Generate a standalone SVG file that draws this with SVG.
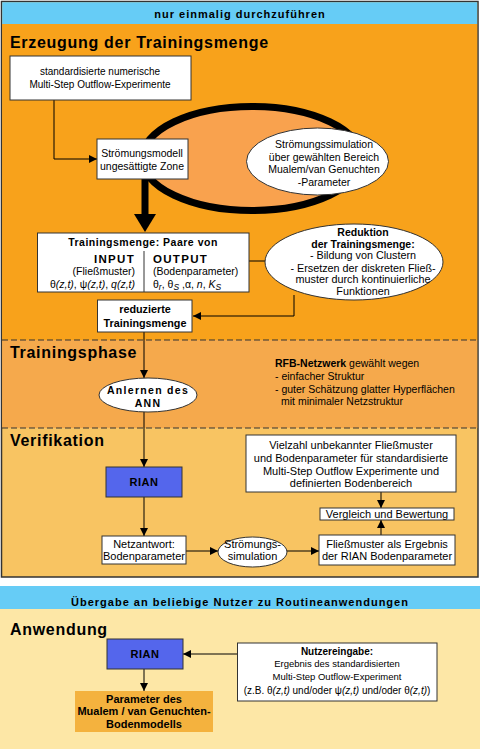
<svg xmlns="http://www.w3.org/2000/svg" width="480" height="749" viewBox="0 0 480 749">
<defs>
<marker id="ah" viewBox="0 0 10 10" refX="10" refY="5" markerWidth="9" markerHeight="8" markerUnits="userSpaceOnUse" orient="auto">
<path d="M0,0 L10,5 L0,10 z" fill="#000"/>
</marker>
<style>
text{font-family:"Liberation Sans",Arial,sans-serif;fill:#000}
.t{font-size:10.5px}
.b{font-size:10.5px;font-weight:bold}
.v{font-size:11px}
.h{font-size:16px;font-weight:bold;letter-spacing:0.7px}
.band{font-size:11px;font-weight:bold;letter-spacing:1px}
.box{fill:#fff;stroke:#333;stroke-width:1}
.ell{fill:#fff;stroke:#333;stroke-width:1}
.con{fill:none;stroke:#000;stroke-width:1}
.i{font-style:italic}
</style>
</defs>

<g id="frame-top">
<rect x="1.5" y="1.5" width="476.5" height="575.5" fill="#F8C462" stroke="#333" stroke-width="1.5"/>
<rect x="2.2" y="2.2" width="475" height="22" fill="#66CCF6"/>
<rect x="2.2" y="24" width="475" height="316" fill="#F8A21B"/>
<rect x="2.2" y="340" width="475" height="88" fill="#F5A94C"/>
<line x1="2" y1="340" x2="477" y2="340" stroke="#333" stroke-width="1" stroke-dasharray="6,3"/>
<line x1="2" y1="428" x2="477" y2="428" stroke="#333" stroke-width="1" stroke-dasharray="6,3"/>
<text class="band" x="240" y="18" text-anchor="middle">nur einmalig durchzuführen</text>
<text class="h" x="10" y="48">Erzeugung der Trainingsmenge</text>
<text class="h" x="10" y="358">Trainingsphase</text>
<text class="h" x="10" y="446">Verifikation</text>
</g>

<g id="frame-bottom">
<rect x="0" y="586" width="480" height="23" fill="#66CCF6"/>
<rect x="0" y="609" width="480" height="140" fill="#FDE7A6"/>
<text class="band" x="240" y="606" text-anchor="middle">Übergabe an beliebige Nutzer zu Routineanwendungen</text>
<text class="h" x="10" y="635">Anwendung</text>
</g>

<g id="loop">
<ellipse cx="252" cy="158.5" rx="110" ry="52" fill="#F9A24E" stroke="#000" stroke-width="7"/>
<path d="M145,168 L145,216" stroke="#000" stroke-width="7" fill="none"/>
<path d="M134,214 L156,214 L145,232 z" fill="#000"/>
</g>

<g id="connectors">
<path class="con" d="M54,100 L54,159 L97,159" marker-end="url(#ah)"/>
<line class="con" x1="249" y1="261" x2="266" y2="261"/>
<path class="con" d="M294,295 L294,316 L193,316" marker-end="url(#ah)"/>
<line class="con" x1="144" y1="332" x2="144" y2="378" marker-end="url(#ah)"/>
<line class="con" x1="144" y1="412" x2="144" y2="467" marker-end="url(#ah)"/>
<line class="con" x1="144" y1="497" x2="144" y2="536" marker-end="url(#ah)"/>
<line class="con" x1="186" y1="551" x2="218" y2="551" marker-end="url(#ah)"/>
<line class="con" x1="287" y1="551" x2="319" y2="551" marker-end="url(#ah)"/>
<line class="con" x1="381" y1="535" x2="381" y2="520" marker-end="url(#ah)"/>
<line class="con" x1="381" y1="492" x2="381" y2="508" marker-end="url(#ah)"/>
<line class="con" x1="237" y1="654" x2="183" y2="654" marker-end="url(#ah)"/>
<line class="con" x1="144" y1="669" x2="144" y2="691" marker-end="url(#ah)"/>
</g>

<g id="n-experimente">
<rect class="box" x="10" y="56" width="181" height="44"/>
<text class="t" x="100" y="75" text-anchor="middle" style="font-size:10px">standardisierte numerische</text>
<text class="t" x="100" y="87.5" text-anchor="middle" style="font-size:10px">Multi-Step Outflow-Experimente</text>
</g>

<g id="n-stroemungsmodell">
<rect class="box" x="97" y="139" width="91" height="40"/>
<text class="t" x="142" y="157" text-anchor="middle">Strömungsmodell</text>
<text class="t" x="142" y="169.5" text-anchor="middle">ungesättigte Zone</text>
</g>

<g id="n-stroemungssimulation">
<ellipse class="ell" cx="317.5" cy="161.5" rx="71" ry="33.5"/>
<text class="t" x="324" y="148" text-anchor="middle">Strömungssimulation</text>
<text class="t" x="324" y="160.5" text-anchor="middle">über gewählten Bereich</text>
<text class="t" x="324" y="173" text-anchor="middle">Mualem/van Genuchten</text>
<text class="t" x="324" y="185.5" text-anchor="middle">-Parameter</text>
</g>

<g id="n-trainingsmenge">
<rect class="box" x="37.5" y="233" width="211.5" height="59"/>
<line x1="144" y1="251" x2="144" y2="292" stroke="#333" stroke-width="1"/>
<text class="b" x="143" y="246" text-anchor="middle" style="letter-spacing:0.5px">Trainingsmenge: Paare von</text>
<text class="b" x="135" y="262.5" text-anchor="end" style="font-size:11.5px;letter-spacing:1.3px">INPUT</text>
<text class="t" x="135" y="275" text-anchor="end">(Fließmuster)</text>
<text class="t" x="135" y="287.5" text-anchor="end">θ<tspan class="i">(z,t)</tspan>, ψ<tspan class="i">(z,t)</tspan>, <tspan class="i">q(z,t)</tspan></text>
<text class="b" x="153" y="262.5" style="font-size:11.5px;letter-spacing:1.3px">OUTPUT</text>
<text class="t" x="153" y="275">(Bodenparameter)</text>
<text class="t" x="153" y="287.5">θ<tspan class="i" font-size="8.5" dy="2">r</tspan><tspan dy="-2">, θ</tspan><tspan class="i" font-size="8.5" dy="2">S</tspan><tspan dy="-2"> ,α, </tspan><tspan class="i">n</tspan>, <tspan class="i">K</tspan><tspan class="i" font-size="8.5" dy="2">S</tspan></text>
</g>

<g id="n-reduktion">
<ellipse class="ell" cx="354" cy="262" rx="89" ry="38"/>
<text class="b" x="363" y="236" text-anchor="middle">Reduktion</text>
<text class="b" x="363" y="247.5" text-anchor="middle">der Trainingsmenge:</text>
<text class="t" x="363" y="259" text-anchor="middle" style="font-size:10.8px">- Bildung von Clustern</text>
<text class="t" x="363" y="271.5" text-anchor="middle" style="font-size:10.8px">- Ersetzen der diskreten Fließ-</text>
<text class="t" x="363" y="283" text-anchor="middle" style="font-size:10.8px">muster durch kontinuierliche</text>
<text class="t" x="363" y="294.5" text-anchor="middle" style="font-size:10.8px">Funktionen</text>
</g>

<g id="n-reduzierte">
<rect class="box" x="97.5" y="300" width="94.5" height="32"/>
<text class="b" x="145" y="313" text-anchor="middle" style="font-size:10.8px">reduzierte</text>
<text class="b" x="145" y="327" text-anchor="middle" style="font-size:10.8px">Trainingsmenge</text>
</g>

<g id="n-anlernen">
<ellipse class="ell" cx="148" cy="395" rx="49" ry="17"/>
<text class="b" x="148" y="394" text-anchor="middle" style="letter-spacing:1.3px">Anlernen des</text>
<text class="b" x="148" y="407" text-anchor="middle" style="letter-spacing:1.3px">ANN</text>
</g>

<g id="n-rfb">
<text class="t" x="275" y="367"><tspan font-weight="bold">RFB-Netzwerk</tspan> gewählt wegen</text>
<text class="t" x="275" y="380">- einfacher Struktur</text>
<text class="t" x="275" y="393">- guter Schätzung glatter Hyperflächen</text>
<text class="t" x="281" y="405">mit minimaler Netzstruktur</text>
</g>

<g id="n-rian1">
<rect x="106" y="467" width="76" height="30" fill="#5466EC" stroke="#333" stroke-width="1"/>
<text class="b" x="144" y="486" text-anchor="middle" style="font-size:11px;letter-spacing:0.5px">RIAN</text>
</g>

<g id="n-vielzahl">
<rect class="box" x="246" y="435" width="210" height="57"/>
<text class="v" x="351" y="448.5" text-anchor="middle">Vielzahl unbekannter Fließmuster</text>
<text class="v" x="351" y="461.5" text-anchor="middle">und Bodenparameter für standardisierte</text>
<text class="v" x="351" y="474.5" text-anchor="middle">Multi-Step Outflow Experimente und</text>
<text class="v" x="351" y="487" text-anchor="middle">definierten Bodenbereich</text>
</g>

<g id="n-vergleich">
<rect class="box" x="320" y="508" width="134" height="12"/>
<text class="v" x="387" y="518" text-anchor="middle">Vergleich und Bewertung</text>
</g>

<g id="n-netzantwort">
<rect class="box" x="102" y="536" width="84" height="28"/>
<text class="v" x="144" y="547.5" text-anchor="middle">Netzantwort:</text>
<text class="v" x="144" y="560" text-anchor="middle">Bodenparameter</text>
</g>

<g id="n-stroemungs2">
<ellipse class="ell" cx="252.5" cy="552" rx="34.5" ry="15"/>
<text class="v" x="252.5" y="547.5" text-anchor="middle">Strömungs-</text>
<text class="v" x="252.5" y="560" text-anchor="middle">simulation</text>
</g>

<g id="n-fliessmuster">
<rect class="box" x="319" y="535" width="136" height="30"/>
<text class="v" x="387" y="547.5" text-anchor="middle">Fließmuster als Ergebnis</text>
<text class="v" x="387" y="560" text-anchor="middle">der RIAN Bodenparameter</text>
</g>

<g id="n-rian2">
<rect x="107" y="639" width="76" height="30" fill="#5466EC" stroke="#333" stroke-width="1"/>
<text class="b" x="145" y="658" text-anchor="middle" style="font-size:11px;letter-spacing:0.5px">RIAN</text>
</g>

<g id="n-nutzereingabe">
<rect class="box" x="237.5" y="643" width="199.5" height="58"/>
<text class="b" x="337" y="655" text-anchor="middle" style="font-size:10px">Nutzereingabe:</text>
<text class="t" x="337" y="667" text-anchor="middle" style="font-size:9.5px">Ergebnis des standardisierten</text>
<text class="t" x="337" y="680" text-anchor="middle" style="font-size:9.5px">Multi-Step Outflow-Experiment</text>
<text class="t" x="337" y="693.5" text-anchor="middle" style="font-size:10px">(z.B. θ<tspan class="i">(z,t)</tspan> und/oder ψ<tspan class="i">(z,t)</tspan> und/oder θ<tspan class="i">(z,t)</tspan>)</text>
</g>

<g id="n-parameter">
<rect x="75" y="691" width="138" height="41" fill="#F4B23E"/>
<text class="b" x="144" y="703" text-anchor="middle" style="font-size:11px">Parameter des</text>
<text class="b" x="144" y="715" text-anchor="middle" style="font-size:11px">Mualem / van Genuchten-</text>
<text class="b" x="144" y="727.5" text-anchor="middle" style="font-size:11px">Bodenmodells</text>
</g>
</svg>
